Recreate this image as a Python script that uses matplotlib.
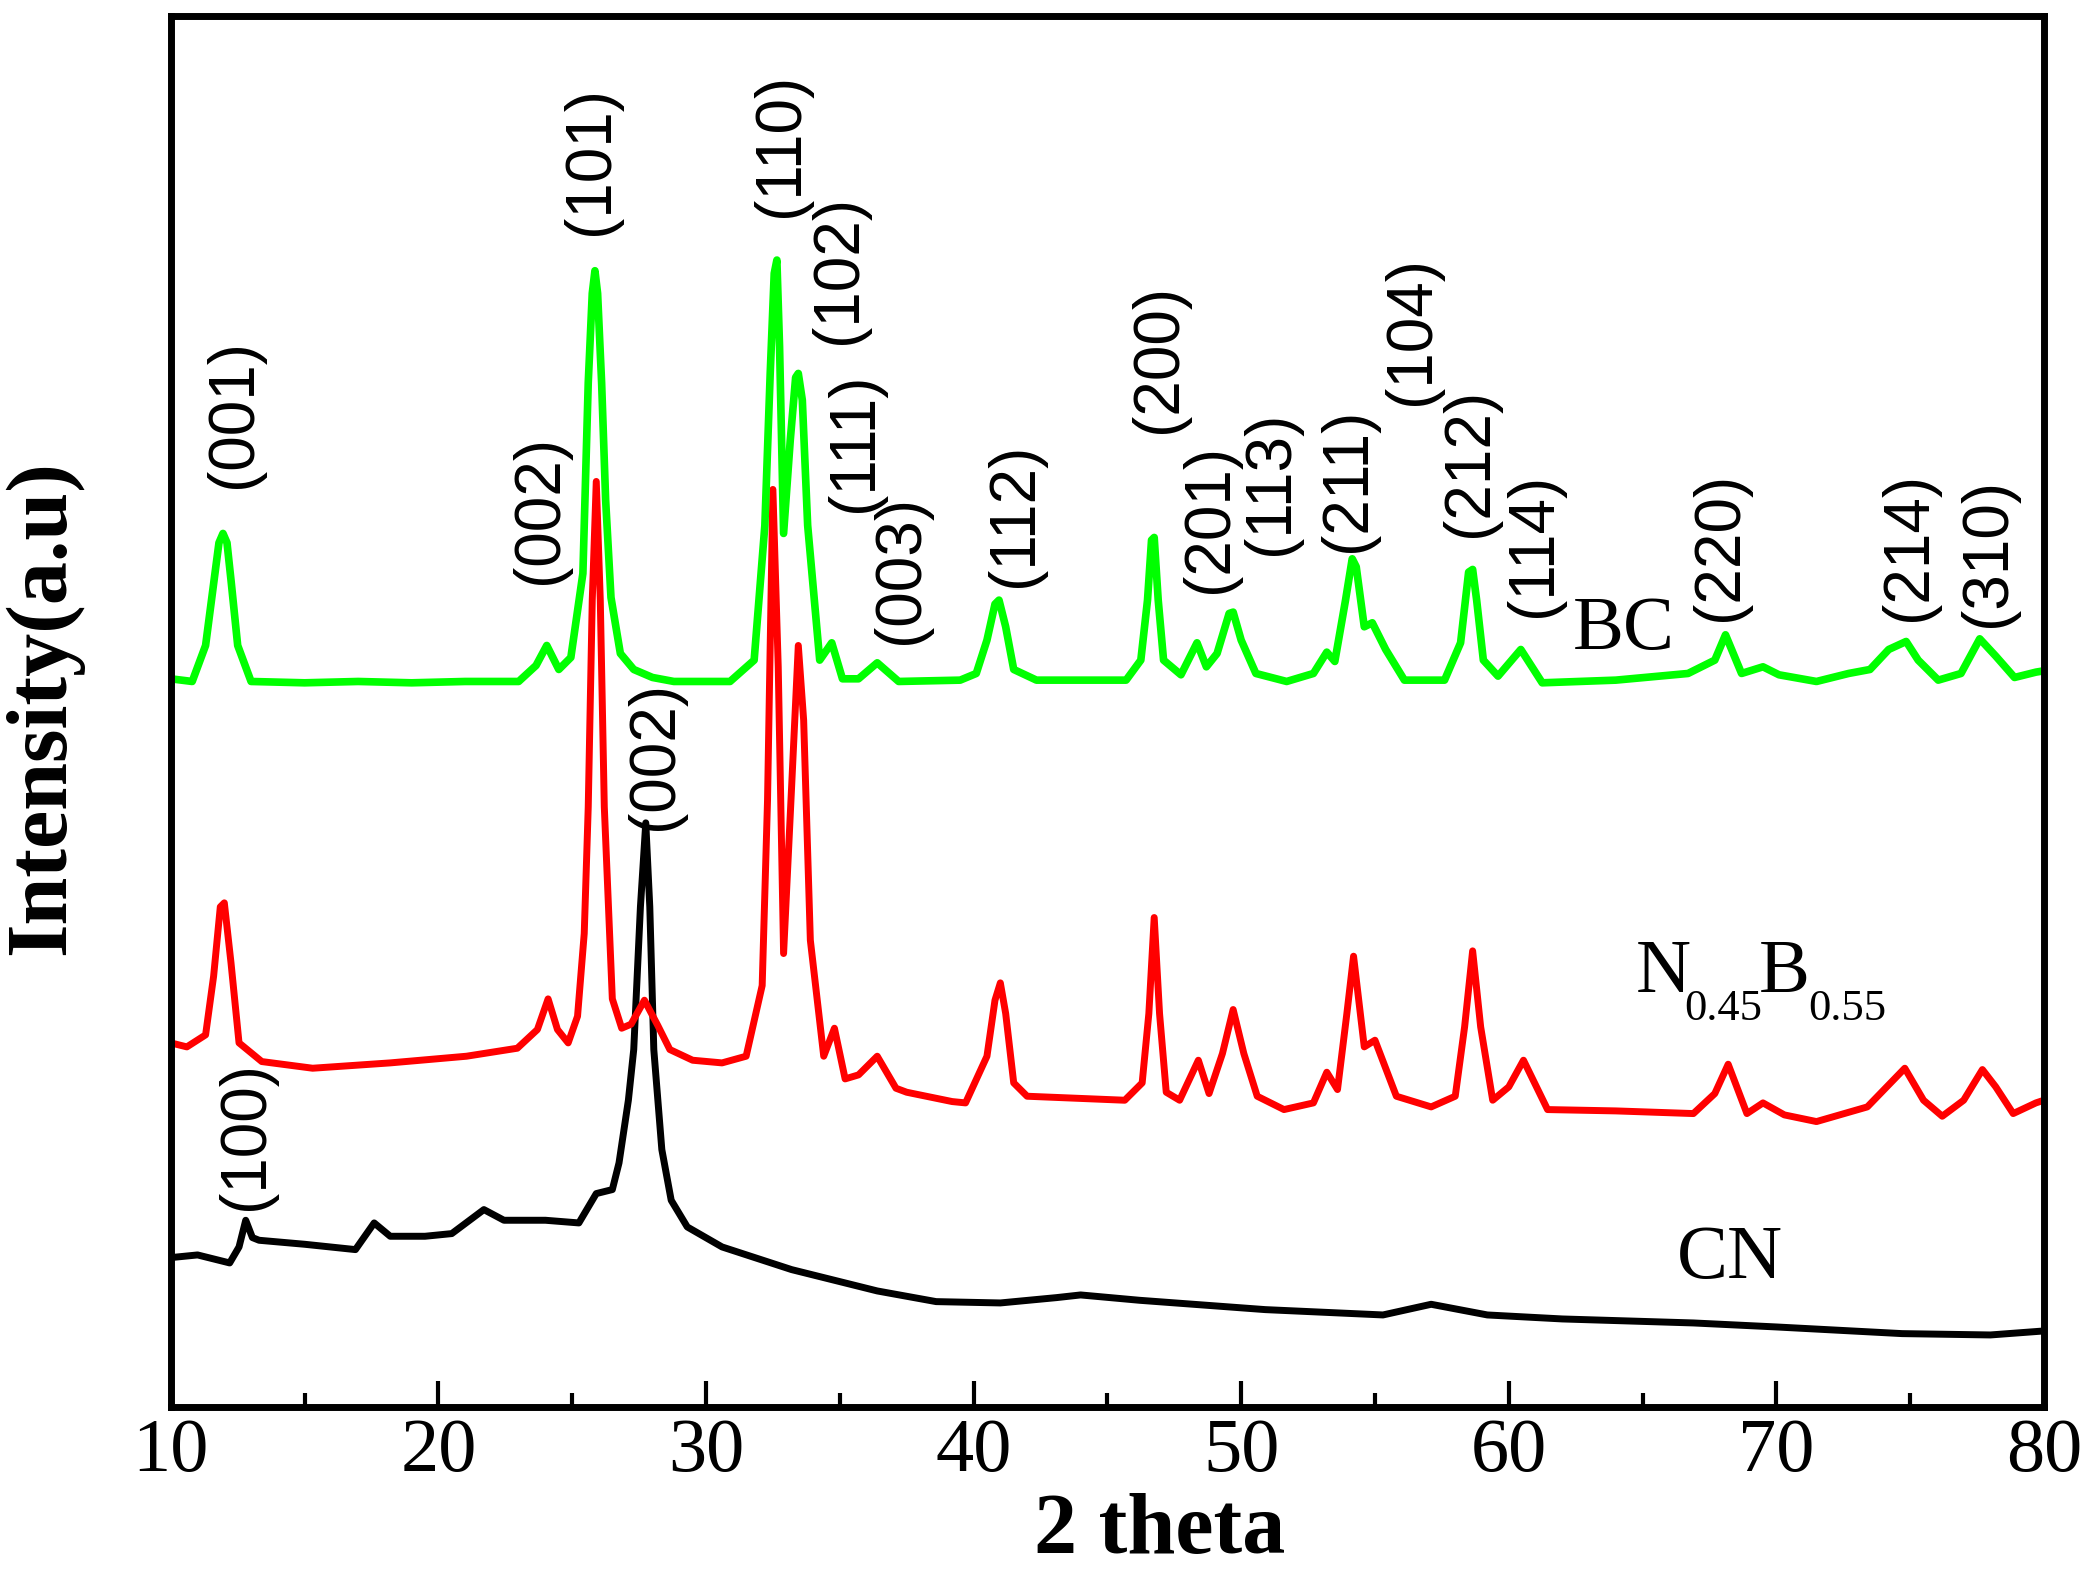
import matplotlib
matplotlib.use("Agg")
from matplotlib import pyplot as plt
from matplotlib.ticker import MultipleLocator

# BC (green) pattern, 2theta and intensity (a.u.)
bc_x = [10.0, 10.8, 11.3, 11.65, 11.8, 11.95, 12.1, 12.25, 12.5, 13.0, 15.0, 17.0, 19.0, 21.0, 23.0,
        23.65, 24.05, 24.5, 24.95, 25.4, 25.6, 25.75, 25.85, 25.95, 26.1, 26.25, 26.45, 26.8,
        27.3, 28.0, 28.8, 30.9, 31.8, 32.2, 32.4, 32.55, 32.65, 32.75, 32.9, 33.15, 33.35, 33.45, 33.6,
        33.8, 34.25, 34.7, 35.1, 35.7, 36.4, 37.2, 39.5, 40.1, 40.5, 40.8, 40.95, 41.2, 41.5,
        42.35, 45.7, 46.25, 46.5, 46.65, 46.75, 46.9, 47.1, 47.75, 48.35, 48.7, 49.1, 49.55, 49.7, 50.0,
        50.55, 51.7, 52.7, 53.2, 53.5, 53.9, 54.15, 54.3, 54.6, 54.9, 55.4, 56.1, 57.6, 58.2,
        58.5, 58.65, 58.8, 59.05, 59.6, 60.45, 61.25, 64.0, 66.7, 67.7, 68.1, 68.7, 69.5, 70.1,
        71.5, 72.7, 73.5, 74.2, 74.85, 75.3, 76.05, 76.9, 77.6, 78.2, 78.9, 79.7, 80.0]
bc_y = [546, 544, 571, 625, 648, 655, 648, 620, 571, 544, 543, 544, 543, 544, 544,
        556, 571, 553, 562, 625, 768, 835, 852, 835, 768, 680, 607, 565,
        553, 547, 544, 544, 560, 661, 775, 850, 860, 795, 655, 725, 772, 775, 755,
        661, 560, 573, 546, 546, 558, 544, 545, 550, 575, 602, 605, 585, 553,
        545, 545, 560, 605, 650, 652, 605, 560, 549, 573, 555, 565, 595, 596, 575,
        550, 544, 550, 566, 559, 605, 636, 630, 585, 588, 568, 545, 545, 573,
        626, 628, 605, 560, 548, 568, 543, 545, 550, 560, 579, 550, 555, 549,
        544, 550, 553, 568, 574, 560, 545, 550, 576, 563, 547, 551, 552]

# N0.45B0.55 (red) pattern
nb_x = [10.0, 10.6, 11.3, 11.6, 11.85, 12.0, 12.25, 12.55, 13.4, 15.3, 18.2, 21.05, 22.95,
        23.7, 24.1, 24.45, 24.85, 25.2, 25.45, 25.6, 25.75, 25.9, 26.05, 26.2, 26.5, 26.85,
        27.2, 27.7, 28.2, 28.65, 29.5, 30.6, 31.5, 32.1, 32.3, 32.5, 32.7, 32.9, 33.2,
        33.45, 33.65, 33.9, 34.4, 34.8, 35.2, 35.7, 36.4, 37.1, 37.5, 39.2, 39.7, 40.5,
        40.8, 41.0, 41.2, 41.5, 42.0, 45.65, 46.3, 46.55, 46.75, 46.95, 47.2, 47.7, 48.4,
        48.8, 49.3, 49.7, 50.1, 50.6, 51.6, 52.7, 53.2, 53.6, 53.95, 54.2, 54.6, 55.0,
        55.8, 57.1, 58.0, 58.35, 58.65, 58.95, 59.4, 60.0, 60.55, 61.45, 64.0, 66.9, 67.7,
        68.2, 68.9, 69.5, 70.3, 71.5, 73.4, 74.8, 75.5, 76.2, 77.0, 77.7, 78.2, 78.85,
        79.7, 80.0]
nb_y = [273, 270, 279, 323, 375, 378, 333, 273, 259, 254, 258, 263, 269,
        283, 306, 283, 273, 293, 355, 450, 605, 694, 605, 450, 306, 284,
        287, 305, 286, 268, 260, 258, 263, 316, 455, 688, 555, 340, 465,
        571, 515, 350, 263, 284, 246, 249, 263, 239, 236, 229, 228, 263,
        305, 318, 295, 243, 233, 230, 243, 295, 367, 295, 236, 230, 260,
        235, 265, 298, 265, 233, 223, 228, 251, 238, 295, 338, 270, 275,
        233, 225, 233, 285, 342, 285, 230, 240, 260, 223, 222, 220, 235,
        257, 220, 228, 219, 214, 225, 254, 230, 218, 230, 253, 240, 220,
        228, 230]

# CN (black) pattern
cn_x = [10.0, 11.0, 12.2, 12.55, 12.8, 13.05, 13.3, 15.0, 16.9, 17.6, 18.2, 19.5, 20.5,
        21.7, 22.45, 24.0, 25.25, 25.9, 26.5, 26.75, 27.1, 27.3, 27.55, 27.75, 27.9, 28.05,
        28.35, 28.7, 29.3, 30.6, 33.2, 36.4, 38.6, 41.0, 43.1, 44.0, 46.2, 50.9, 55.3,
        57.1, 59.2, 62.0, 66.9, 70.0, 74.7, 78.0, 80.0]
cn_y = [112, 114, 108, 120, 140, 127, 125, 122, 118, 138, 128, 128, 130,
        148, 140, 140, 138, 160, 163, 183, 230, 268, 375, 438, 375, 268,
        193, 155, 135, 120, 103, 87, 79, 78, 82, 84, 80, 73, 69,
        77, 69, 66, 63, 60, 55, 54, 57]

# peak indexing: label, 2theta, intensity at label foot
hkl_text = ["(001)", "(002)", "(101)", "(110)", "(102)", "(111)", "(003)", "(112)",
            "(200)", "(201)", "(113)", "(211)", "(104)", "(212)", "(114)", "(220)",
            "(214)", "(310)", "(002)", "(100)"]
hkl_x = [12.35, 23.8, 25.7, 32.8, 34.97, 35.57, 37.3, 41.55,
         46.94, 48.85, 51.1, 54.0, 56.4, 58.55, 60.95, 67.9,
         74.95, 77.9, 28.1, 12.8]
hkl_y = [689, 617, 879, 892, 797, 671, 572, 615,
         730, 610, 639, 641, 751, 652, 592, 589,
         589, 585, 433, 148]

serif = ['Liberation Serif', 'DejaVu Serif']
sans = ['Liberation Sans', 'DejaVu Sans']

fig = plt.figure(figsize=(20.88, 15.83), dpi=100)
ax = fig.add_axes([0.0818, 0.1112, 0.8971, 0.8787])

ax.plot(cn_x, cn_y, color='black', lw=5.0, solid_joinstyle='round')
ax.plot(nb_x, nb_y, color='#ff0000', lw=5.0, solid_joinstyle='round')
ax.plot(bc_x, bc_y, color='#00ff00', lw=5.5, solid_joinstyle='round')

for t, x, y in zip(hkl_text, hkl_x, hkl_y):
    ax.text(x, y, t, rotation=90, ha='center', va='bottom', fontsize=46, family=sans)

# sample names
ax.text(62.4, 568, "BC", fontsize=55, family=serif, ha='left', va='baseline')
ax.text(64.75, 311, "N", fontsize=55, family=serif, ha='left', va='baseline')
ax.text(66.55, 290, "0.45", fontsize=32, family=serif, ha='left', va='baseline')
ax.text(69.35, 311, "B", fontsize=55, family=serif, ha='left', va='baseline')
ax.text(71.2, 290, "0.55", fontsize=32, family=serif, ha='left', va='baseline')
ax.text(66.3, 97, "CN", fontsize=55, family=serif, ha='left', va='baseline')

ax.set_xlim(10, 80)
ax.set_ylim(0, 1043)
ax.xaxis.set_major_locator(MultipleLocator(10))
ax.xaxis.set_minor_locator(MultipleLocator(5))
ax.set_yticks([])
ax.tick_params(axis='x', which='major', direction='in', length=19, width=3, pad=8,
               labelsize=55, top=False)
ax.tick_params(axis='x', which='minor', direction='in', length=10, width=3, top=False)
for lab in ax.get_xticklabels():
    lab.set_family(serif)
for s in ax.spines.values():
    s.set_linewidth(5)

ax.set_xlabel("2 theta", fontsize=62, fontweight='bold', family=serif)
ax.xaxis.set_label_coords(0.528, -0.062)
ax.set_ylabel("Intensity(a.u)", fontsize=62, fontweight='bold', family=serif)
ax.yaxis.set_label_coords(-0.047, 0.503)

fig.savefig("out.png", dpi=100)
